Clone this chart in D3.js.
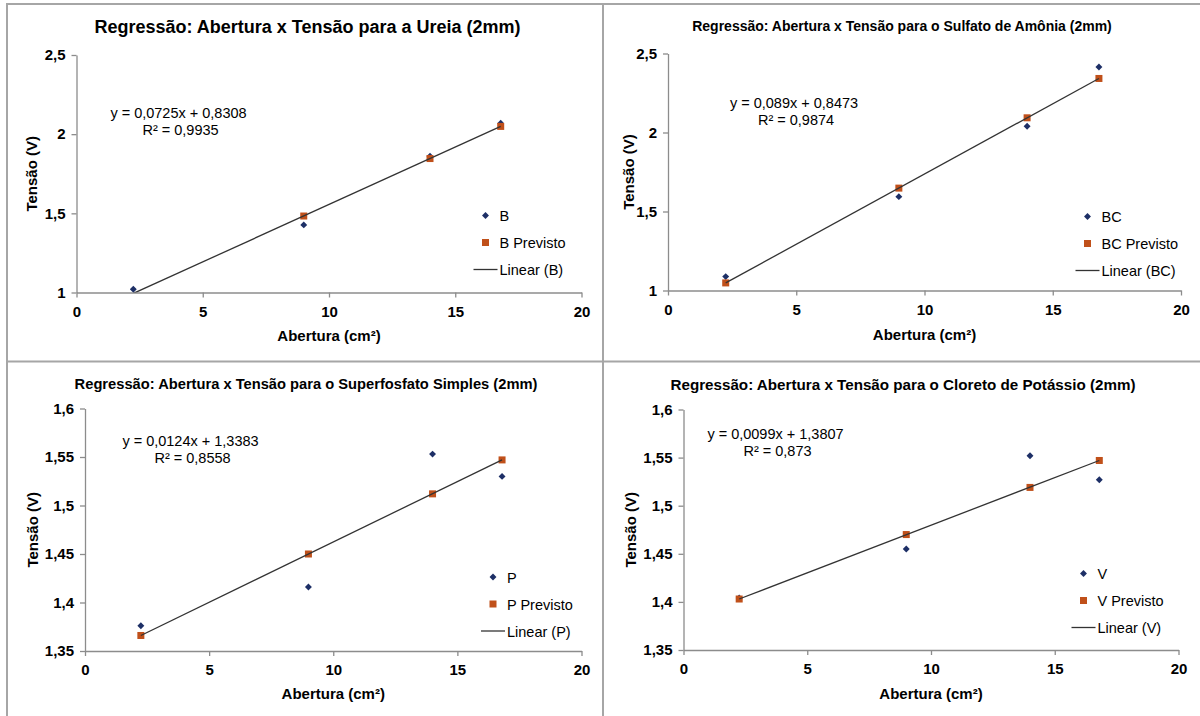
<!DOCTYPE html>
<html>
<head>
<meta charset="utf-8">
<script src="https://cdn.jsdelivr.net/npm/d3@7"></script>
<style>
  html, body { margin: 0; padding: 0; background: #fff; }
  svg { display: block; font-family: "Liberation Sans", Arial, sans-serif; }
</style>
</head>
<body>
<svg id="chart" width="1200" height="716"></svg>
<script>
// Aperture (cm²) used in every test
const abertura = [2.25, 9, 14, 16.8];

// Measured voltage (V) and voltage predicted by the fitted line
const ureiaB        = [1.02, 1.427, 1.86, 2.069];
const ureiaPrevisto = [0.994, 1.483, 1.846, 2.049];

const sulfatoBC       = [1.088, 1.594, 2.04, 2.415];
const sulfatoPrevisto = [1.048, 1.648, 2.093, 2.342];

const superfosfatoP        = [1.376, 1.416, 1.553, 1.53];
const superfosfatoPrevisto = [1.366, 1.450, 1.512, 1.547];

const cloretoV        = [1.404, 1.455, 1.552, 1.527];
const cloretoPrevisto = [1.403, 1.470, 1.519, 1.547];

const titles = [
  "Regressão: Abertura x Tensão para a Ureia (2mm)",
  "Regressão: Abertura x Tensão para o Sulfato de Amônia (2mm)",
  "Regressão: Abertura x Tensão para o Superfosfato Simples (2mm)",
  "Regressão: Abertura x Tensão para o Cloreto de Potássio (2mm)"
];
const seriesNames = ["B", "BC", "P", "V"];
const equations = [
  "y = 0,0725x + 0,8308",
  "y = 0,089x + 0,8473",
  "y = 0,0124x + 1,3383",
  "y = 0,0099x + 1,3807"
];
const r2Labels = ["R² = 0,9935", "R² = 0,9874", "R² = 0,8558", "R² = 0,873"];

// Tick values and their labels
const xTicks = [0, 5, 10, 15, 20];
const xTickLabels = ["0", "5", "10", "15", "20"];
const yTicksTop = [1, 1.5, 2, 2.5];
const yTickLabelsTop = ["1", "1,5", "2", "2,5"];
const yTicksBottom = [1.35, 1.4, 1.45, 1.5, 1.55, 1.6];
const yTickLabelsBottom = ["1,35", "1,4", "1,45", "1,5", "1,55", "1,6"];

const measured  = [ureiaB, sulfatoBC, superfosfatoP, cloretoV];
const predicted = [ureiaPrevisto, sulfatoPrevisto, superfosfatoPrevisto, cloretoPrevisto];

// Layout of the four panels
const layout = [
  { l: 76.5, r: 581.5, t: 55, b: 292.5, yDom: [1, 2.5], yT: yTicksTop, yL: yTickLabelsTop,
    title: { x: 307.5, y: 33, size: 18 }, eq: { x: 178.5, y: 118 },
    legend: { x: 485.5, y: 215.5 }, xTitleY: 341, yTitleX: 37 },
  { l: 668, r: 1181, t: 53.5, b: 290.5, yDom: [1, 2.5], yT: yTicksTop, yL: yTickLabelsTop,
    title: { x: 902, y: 30.5, size: 14 }, eq: { x: 794, y: 108 },
    legend: { x: 1087.5, y: 216.5 }, xTitleY: 340, yTitleX: 634 },
  { l: 85, r: 581.5, t: 408.5, b: 651, yDom: [1.35, 1.6], yT: yTicksBottom, yL: yTickLabelsBottom,
    title: { x: 306, y: 389.3, size: 14.7 }, eq: { x: 190.5, y: 446 },
    legend: { x: 493, y: 577 }, xTitleY: 699, yTitleX: 38 },
  { l: 683.5, r: 1178.5, t: 409.5, b: 650, yDom: [1.35, 1.6], yT: yTicksBottom, yL: yTickLabelsBottom,
    title: { x: 903, y: 390, size: 15.2 }, eq: { x: 775.5, y: 439 },
    legend: { x: 1083.5, y: 573.5 }, xTitleY: 699, yTitleX: 636 }
];

const blue = "#1d2f66";
const orange = "#c0501a";
const axisColor = "#8c8c8c";
const textColor = "#000";

const svg = d3.select("#chart");

// Frame lines separating the panels
const frame = svg.append("g").attr("stroke", "#a6a6a6").attr("stroke-width", 2);
frame.append("line").attr("x1", 6).attr("x2", 1200).attr("y1", 4).attr("y2", 4);
frame.append("line").attr("x1", 7).attr("x2", 7).attr("y1", 4).attr("y2", 716);
frame.append("line").attr("x1", 603).attr("x2", 603).attr("y1", 4).attr("y2", 716);
frame.append("line").attr("x1", 7).attr("x2", 1200).attr("y1", 361.5).attr("y2", 361.5);

// Square markers turned 45° give the diamond glyph
const diamond = d3.symbol().type(d3.symbolSquare).size(24);

layout.forEach((p, i) => {
  const g = svg.append("g");
  const x = d3.scaleLinear().domain([0, 20]).range([p.l, p.r]);
  const y = d3.scaleLinear().domain(p.yDom).range([p.b, p.t]);

  // Title
  g.append("text")
    .attr("x", p.title.x).attr("y", p.title.y)
    .attr("text-anchor", "middle")
    .attr("font-weight", "bold").attr("font-size", p.title.size)
    .attr("fill", textColor)
    .text(titles[i]);

  // Axes
  const xAxis = d3.axisBottom(x).tickValues(xTicks)
    .tickFormat((d, k) => xTickLabels[k]).tickSizeInner(5).tickSizeOuter(0).tickPadding(8);
  const yAxis = d3.axisLeft(y).tickValues(p.yT)
    .tickFormat((d, k) => p.yL[k]).tickSizeInner(5).tickSizeOuter(0).tickPadding(6);

  const gx = g.append("g").attr("transform", `translate(0,${p.b})`).call(xAxis);
  const gy = g.append("g").attr("transform", `translate(${p.l},0)`).call(yAxis);
  [gx, gy].forEach(a => {
    a.select(".domain").attr("stroke", axisColor).attr("stroke-width", 1.3);
    a.selectAll(".tick line").attr("stroke", axisColor).attr("stroke-width", 1.3);
    a.selectAll(".tick text")
      .attr("font-family", "Liberation Sans, Arial, sans-serif")
      .attr("font-size", 15).attr("font-weight", "bold").attr("fill", textColor);
  });
  gx.selectAll(".tick text").attr("dy", "0.75em");

  // Axis titles
  g.append("text")
    .attr("x", (p.l + p.r) / 2).attr("y", p.xTitleY)
    .attr("text-anchor", "middle").attr("font-weight", "bold").attr("font-size", 15)
    .attr("fill", textColor).text("Abertura (cm²)");
  g.append("text")
    .attr("transform", `translate(${p.yTitleX},${(p.t + p.b) / 2}) rotate(-90)`)
    .attr("text-anchor", "middle").attr("font-weight", "bold").attr("font-size", 15)
    .attr("fill", textColor).text("Tensão (V)");

  // Clip region for the plotted marks
  const clipId = "clip" + i;
  svg.append("clipPath").attr("id", clipId).append("rect")
    .attr("x", p.l).attr("y", p.t - 6).attr("width", p.r - p.l + 6).attr("height", p.b - p.t + 6);
  const plot = g.append("g").attr("clip-path", `url(#${clipId})`);

  const inDomain = v => v >= p.yDom[0] && v <= p.yDom[1];

  // Measured values
  plot.selectAll("path.obs")
    .data(abertura.map((a, k) => [a, measured[i][k]]).filter(d => inDomain(d[1])))
    .join("path").attr("class", "obs")
    .attr("d", diamond)
    .attr("transform", d => `translate(${x(d[0])},${y(d[1])}) rotate(45)`)
    .attr("fill", blue);

  // Predicted values
  plot.selectAll("rect.prev")
    .data(abertura.map((a, k) => [a, predicted[i][k]]).filter(d => inDomain(d[1])))
    .join("rect").attr("class", "prev")
    .attr("x", d => x(d[0]) - 3.5).attr("y", d => y(d[1]) - 3.5)
    .attr("width", 7).attr("height", 7)
    .attr("fill", orange);

  // Linear trendline through the fitted values
  const lineClip = "lclip" + i;
  svg.append("clipPath").attr("id", lineClip).append("rect")
    .attr("x", p.l).attr("y", p.t).attr("width", p.r - p.l).attr("height", p.b - p.t);
  const pts = abertura.map((a, k) => [a, predicted[i][k]]);
  g.append("path")
    .attr("clip-path", `url(#${lineClip})`)
    .attr("d", d3.line().x(d => x(d[0])).y(d => y(d[1]))([pts[0], pts[pts.length - 1]]))
    .attr("fill", "none").attr("stroke", "#333").attr("stroke-width", 1.3);

  // Equation and R²
  g.append("text").attr("x", p.eq.x).attr("y", p.eq.y)
    .attr("text-anchor", "middle").attr("font-size", 14.5).attr("fill", textColor)
    .text(equations[i]);
  g.append("text").attr("x", p.eq.x + 2).attr("y", p.eq.y + 17)
    .attr("text-anchor", "middle").attr("font-size", 14.5).attr("fill", textColor)
    .text(r2Labels[i]);

  // Legend
  const lg = g.append("g").attr("transform", `translate(${p.legend.x},${p.legend.y})`);
  const name = seriesNames[i];
  lg.append("path").attr("d", diamond).attr("transform", "rotate(45)").attr("fill", blue);
  lg.append("rect").attr("x", -3.5).attr("y", 27 - 3.5).attr("width", 7).attr("height", 7).attr("fill", orange);
  lg.append("line").attr("x1", -12).attr("x2", 12).attr("y1", 54).attr("y2", 54)
    .attr("stroke", "#333").attr("stroke-width", 1.3);
  [name, name + " Previsto", "Linear (" + name + ")"].forEach((t, k) => {
    lg.append("text").attr("x", 14).attr("y", k * 27 + 5.5)
      .attr("font-size", 14.5).attr("fill", textColor).text(t);
  });
});
</script>
</body>
</html>
